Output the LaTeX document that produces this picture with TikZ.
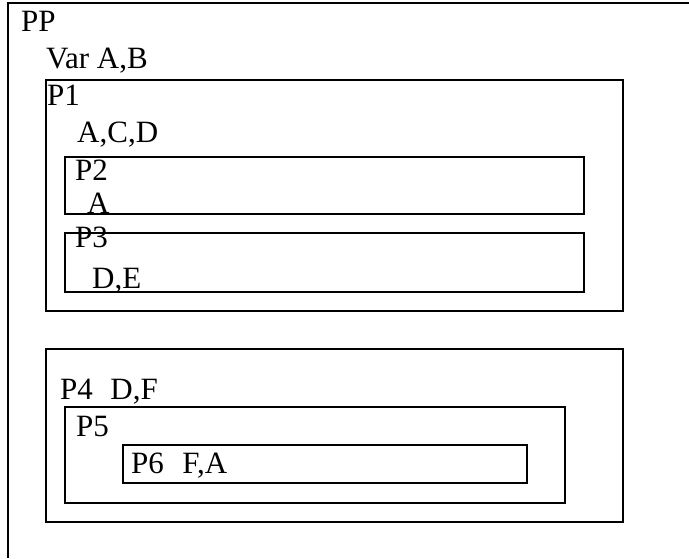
\documentclass[tikz,border=0pt]{standalone}
\usepackage{fontspec}
\setmainfont{Liberation Serif}
\usepackage{tikz}
\begin{document}
\begin{tikzpicture}[x=1pt,y=-1pt,
  frame/.style={draw=black, line width=2pt},
  lbl/.style={anchor=base west, inner sep=0pt, font=\fontsize{31}{36}\selectfont}]
  \useasboundingbox (0,0) rectangle (689,558);
  \draw[frame] (8,558) -- (8,3) -- (689,3);
  \draw[frame] (46,80) rectangle (623,311);
  \draw[frame] (65,157) rectangle (584,214);
  \draw[frame] (65,233) rectangle (584,292);
  \draw[frame] (46,349) rectangle (623,522);
  \draw[frame] (65,407) rectangle (565,503);
  \draw[frame] (123,445) rectangle (527,483);
  \node[lbl] (pp) at (21,31) {PP};
  \node[lbl] (var) at (46,68) {Var A,B};
  \node[lbl] (p1) at (47,105) {P1};
  \node[lbl] (p1var) at (77,142) {A,C,D};
  \node[lbl] (p2) at (75,180) {P2};
  \node[lbl] (p2var) at (87,213) {A};
  \node[lbl] (p3) at (75,247) {P3};
  \node[lbl] (p3var) at (92,288) {D,E};
  \node[lbl] (p4) at (60,399) {P4\hspace{17.5pt}D,F};
  \node[lbl] (p5) at (76,436) {P5};
  \node[lbl] (p6) at (131,473) {P6\hspace{18.5pt}F,A};
\end{tikzpicture}
\end{document}
